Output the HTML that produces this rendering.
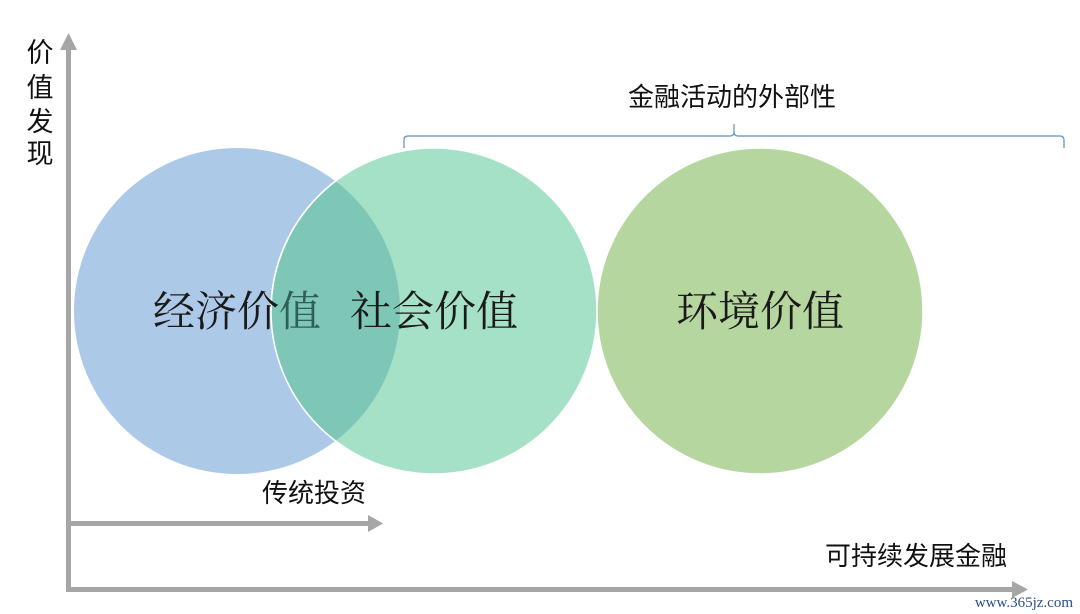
<!DOCTYPE html>
<html><head><meta charset="utf-8"><style>
html,body{margin:0;padding:0;background:#fff;}
svg{display:block;}
</style></head><body>
<svg width="1080" height="614" viewBox="0 0 1080 614" xmlns="http://www.w3.org/2000/svg">
<defs>
<clipPath id="cb"><circle cx="237" cy="311" r="163"/></clipPath>
</defs>
<rect width="1080" height="614" fill="#fff"/>
<!-- circles -->
<circle cx="237" cy="311" r="163" fill="#adc9e8"/>
<circle cx="434" cy="311" r="163" fill="#a5e1c6" stroke="#fff" stroke-width="1.5"/>
<circle cx="434" cy="311" r="163" fill="#7ec6b6" clip-path="url(#cb)"/>
<path d="M271,311 A163,163 0 0 1 434,148" fill="none" stroke="#fff" stroke-width="1.5" clip-path="url(#cb)"/>
<circle cx="434" cy="311" r="163" fill="none" stroke="#fff" stroke-width="1.5" clip-path="url(#cb)"/>
<text x="237" y="326" font-family="Noto Serif CJK SC, serif" font-size="42" fill="#1a1a1a" text-anchor="middle">经济价<tspan fill="#2f5f55">值</tspan></text>
<text x="434" y="326" font-family="Noto Serif CJK SC, serif" font-size="42" fill="#1a1a1a" text-anchor="middle">社会价值</text>
<circle cx="760" cy="311" r="163" fill="#b6d6a0" stroke="#fff" stroke-width="1.5"/>
<text x="760" y="326" font-family="Noto Serif CJK SC, serif" font-size="42" fill="#1a1a1a" text-anchor="middle">环境价值</text>
<!-- axes -->
<g fill="#a6a6a6">
<rect x="66" y="48" width="5" height="543"/>
<polygon points="68.5,33 60,50 77,50"/>
<rect x="66" y="587" width="948" height="5"/>
<polygon points="1028,589.5 1012,581 1012,598"/>
<rect x="70" y="521" width="300" height="5"/>
<polygon points="383,523.5 368,515 368,532"/>
</g>
<!-- bracket -->
<path d="M404,148 V140 Q404,136 408,136 H730 Q734,136 734,132 V124 M734,132 Q734,136 738,136 H1060 Q1064,136 1064,140 V148" fill="none" stroke="#5b8fc0" stroke-width="1.2"/>
<g font-family="Liberation Sans, Noto Sans CJK SC, sans-serif" fill="#111">
<text x="732" y="106" font-size="26" text-anchor="middle">金融活动的外部性</text>
<text x="40" y="62" font-size="27" text-anchor="middle">价</text>
<text x="40" y="97" font-size="27" text-anchor="middle">值</text>
<text x="40" y="131" font-size="27" text-anchor="middle">发</text>
<text x="40" y="163" font-size="27" text-anchor="middle">现</text>
<text x="314" y="502" font-size="26" text-anchor="middle">传统投资</text>
<text x="916" y="565" font-size="26" text-anchor="middle">可持续发展金融</text>
</g>
<text x="1073" y="607" font-family="Liberation Serif, serif" font-size="15" fill="#2b4f8a" text-anchor="end">www.365jz.com</text>
</svg>
</body></html>
